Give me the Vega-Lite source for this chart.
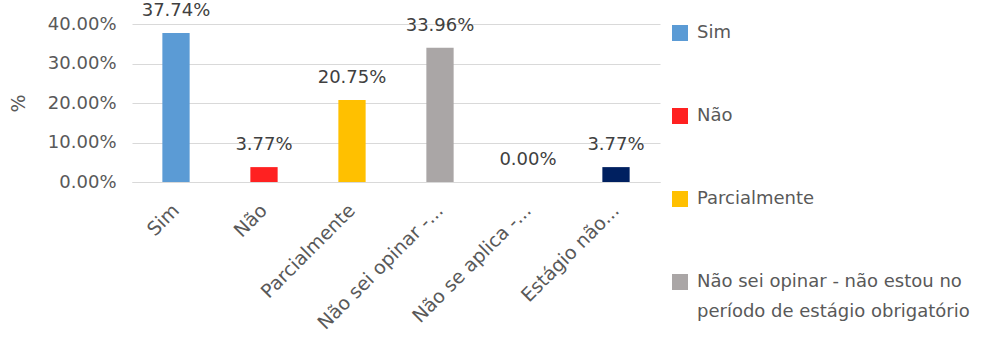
{
  "$schema": "https://vega.github.io/schema/vega-lite/v6.json",
  "width": 528,
  "height": 158,
  "autosize": {"type": "none"},
  "padding": {"left": 132, "top": 24, "right": 333, "bottom": 156},
  "background": "white",
  "config": {
    "font": "DejaVu Sans",
    "view": {"stroke": null},
    "axis": {"labelFont": "DejaVu Sans", "titleFont": "DejaVu Sans"},
    "legend": {"labelFont": "DejaVu Sans"}
  },
  "data": {
    "values": [
      {"categoria": "Sim", "valor": 0.3774},
      {"categoria": "Não", "valor": 0.0377},
      {"categoria": "Parcialmente", "valor": 0.2075},
      {"categoria": "Não sei opinar - não estou no período de estágio obrigatório", "valor": 0.3396},
      {"categoria": "Não se aplica -...", "valor": 0.0},
      {"categoria": "Estágio não...", "valor": 0.0377}
    ]
  },
  "encoding": {
    "x": {
      "field": "categoria",
      "type": "nominal",
      "sort": null,
      "scale": {"paddingInner": 0.69, "paddingOuter": 0.345},
      "axis": {
        "title": null,
        "labelAngle": -45,
        "labelAlign": "right",
        "labelBaseline": "middle",
        "labelFontSize": 19,
        "labelColor": "#595959",
        "labelPadding": 25,
        "labelLimit": 300,
        "ticks": false,
        "domainColor": "#d9d9d9",
        "domainWidth": 1,
        "labelExpr": "indexof(datum.label, 'Não sei opinar') == 0 ? 'Não sei opinar -...' : datum.label"
      }
    },
    "y": {
      "field": "valor",
      "type": "quantitative",
      "scale": {"domain": [0, 0.4]},
      "axis": {
        "title": "%",
        "titleFontSize": 19,
        "titleFontWeight": "normal",
        "titleColor": "#595959",
        "titlePadding": 19,
        "format": ".2%",
        "values": [0, 0.1, 0.2, 0.3, 0.4],
        "labelFontSize": 18,
        "labelColor": "#595959",
        "labelPadding": 16,
        "ticks": false,
        "domain": false,
        "gridColor": "#d9d9d9",
        "gridWidth": 1
      }
    }
  },
  "layer": [
    {
      "mark": {"type": "bar"},
      "encoding": {
        "color": {
          "field": "categoria",
          "type": "nominal",
          "sort": null,
          "scale": {
            "domain": ["Sim", "Não", "Parcialmente", "Não sei opinar - não estou no período de estágio obrigatório", "Não se aplica -...", "Estágio não..."],
            "range": ["#5b9bd5", "#ff2121", "#ffc000", "#aaa6a6", "#4472c4", "#002060"]
          },
          "legend": {
            "title": null,
            "orient": "right",
            "offset": 11,
            "padding": 0,
            "values": ["Sim", "Não", "Parcialmente", "Não sei opinar - não estou no período de estágio obrigatório"],
            "symbolType": "square",
            "symbolSize": 256,
            "symbolStrokeWidth": 0,
            "labelFontSize": 18,
            "labelColor": "#595959",
            "labelLimit": 400,
            "labelOffset": 8,
            "rowPadding": 65,
            "labelExpr": "indexof(datum.label, 'Não sei opinar') == 0 ? ['Não sei opinar - não estou no', 'período de estágio obrigatório'] : datum.label",
            "encode": {"labels": {"update": {"lineHeight": {"value": 30}}}}
          }
        }
      }
    },
    {
      "mark": {"type": "text", "fontSize": 18, "color": "#404040", "baseline": "middle", "dy": -22},
      "encoding": {
        "text": {"field": "valor", "type": "quantitative", "format": ".2%"}
      }
    }
  ]
}
